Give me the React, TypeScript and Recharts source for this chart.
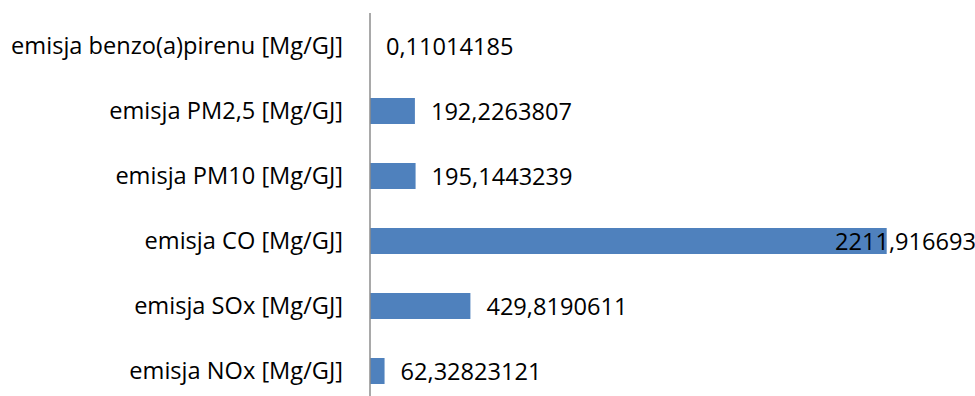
import { BarChart, Bar, XAxis, YAxis, LabelList } from "recharts";

const categories = [
  "emisja benzo(a)pirenu [Mg/GJ]",
  "emisja PM2,5 [Mg/GJ]",
  "emisja PM10 [Mg/GJ]",
  "emisja CO [Mg/GJ]",
  "emisja SOx [Mg/GJ]",
  "emisja NOx [Mg/GJ]",
];

const values = [0.11014185, 192.2263807, 195.1443239, 2211.916693, 429.8190611, 62.32823121];

const data = categories.map((name, i) => ({ name, value: values[i] }));

const CHART_W = 975;
const FONT = "'Open Sans', sans-serif";
const FONT_SIZE = 23.6;

// value label right of the bar; pulled back inside when it would run off the edge
const ValueLabel = (props: any) => {
  const { x, y, width, height, value } = props;
  const text = String(value).replace(".", ",");
  const approxW = text.length * 13;
  const lx = x + width + 16;
  const overflow = lx + approxW > CHART_W;
  return (
    <text
      x={overflow ? CHART_W + 1 : lx}
      y={y + height / 2}
      textAnchor={overflow ? "end" : "start"}
      dominantBaseline="central"
      fontSize={FONT_SIZE}
      fontFamily={FONT}
      fill="#000"
    >
      {text}
    </text>
  );
};

const App = () => {
  return (
    <div
      style={{
        position: "fixed",
        left: 0,
        top: 0,
        width: 975,
        height: 396,
        overflow: "hidden",
        background: "#fff",
      }}
    >
      <BarChart
        width={975}
        height={420}
        data={data}
        layout="vertical"
        margin={{ top: 13, right: 21, left: 0, bottom: 17 }}
      >
        <XAxis type="number" domain={[0, 2500]} hide />
        <YAxis
          type="category"
          dataKey="name"
          width={370}
          axisLine={{ stroke: "#8c8c8c", strokeWidth: 1.5 }}
          tickLine={false}
          tickSize={0}
          tickMargin={27}
          tick={{ fill: "#000", fontSize: FONT_SIZE, fontFamily: FONT }}
        />
        <Bar dataKey="value" fill="#4F81BD" barSize={26} isAnimationActive={false}>
          <LabelList dataKey="value" content={ValueLabel} />
        </Bar>
      </BarChart>
    </div>
  );
};

export default App;
